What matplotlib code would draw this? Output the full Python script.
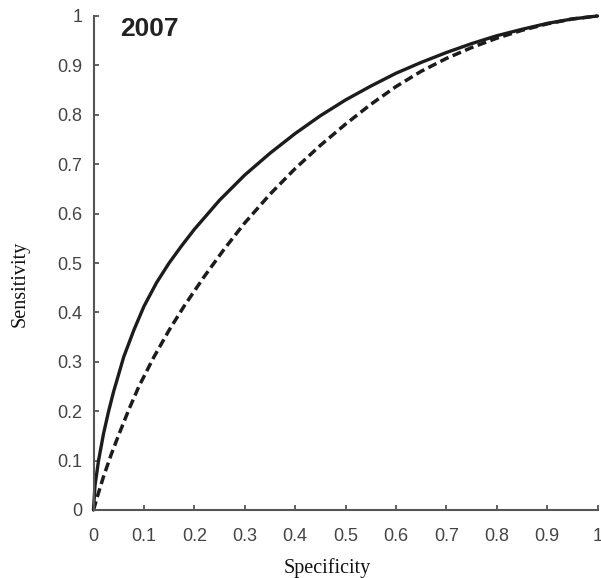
import matplotlib
matplotlib.use('Agg')
import matplotlib.pyplot as plt
import numpy as np

# ROC curves
solid_x = [0, 0.003, 0.01, 0.02, 0.03, 0.04, 0.06, 0.08, 0.1, 0.125, 0.15, 0.175, 0.2,
           0.25, 0.3, 0.35, 0.4, 0.45, 0.5, 0.55, 0.6, 0.65, 0.7, 0.75, 0.8, 0.85, 0.9, 0.95, 1.0]
solid_y = [0, 0.05, 0.1, 0.155, 0.2, 0.24, 0.31, 0.364, 0.412, 0.46, 0.5, 0.535, 0.568,
           0.627, 0.678, 0.722, 0.762, 0.798, 0.83, 0.858, 0.884, 0.906, 0.926, 0.944, 0.96, 0.973, 0.985, 0.994, 1.0]

dash_x = [0, 0.01, 0.02, 0.035, 0.05, 0.07, 0.09, 0.12, 0.15, 0.18, 0.22, 0.26, 0.3,
          0.35, 0.4, 0.45, 0.5, 0.55, 0.6, 0.65, 0.7, 0.75, 0.8, 0.85, 0.9, 0.95, 1.0]
dash_y = [0, 0.035, 0.068, 0.112, 0.152, 0.203, 0.25, 0.31, 0.364, 0.413, 0.473, 0.529, 0.581,
          0.639, 0.691, 0.738, 0.781, 0.821, 0.857, 0.888, 0.914, 0.936, 0.955, 0.971, 0.984, 0.994, 1.0]

ticks = [0, 0.1, 0.2, 0.3, 0.4, 0.5, 0.6, 0.7, 0.8, 0.9, 1]
tick_labels = ['0', '0.1', '0.2', '0.3', '0.4', '0.5', '0.6', '0.7', '0.8', '0.9', '1']

W, H = 601, 578
fig = plt.figure(figsize=(W / 100, H / 100), dpi=100)
ax = fig.add_axes([93.5 / W, 1 - 510 / H, 504 / W, 494 / H])

line_col = '#1c1c1c'
ax.plot(solid_x, solid_y, color=line_col, lw=2.4, clip_on=False,
        solid_capstyle='round', solid_joinstyle='round')
ax.plot(dash_x, dash_y, color=line_col, lw=2.5, clip_on=False,
        linestyle=(0, (2.6, 1.3)), dash_capstyle='butt')

ax.set_xlim(0, 1)
ax.set_ylim(0, 1)
ax.set_xticks(ticks)
ax.set_yticks(ticks)
ax.set_xticklabels(tick_labels)
ax.set_yticklabels(tick_labels)

for s in ['top', 'right']:
    ax.spines[s].set_visible(False)
for s in ['left', 'bottom']:
    ax.spines[s].set_color('#555555')
    ax.spines[s].set_linewidth(1.5)

ax.tick_params(direction='in', length=3.5, width=1.3, color='#555555',
               labelsize=13, labelcolor='#444444')
ax.tick_params(axis='x', pad=13)
ax.tick_params(axis='y', pad=8)
for lab in ax.get_xticklabels() + ax.get_yticklabels():
    lab.set_family('Liberation Sans')

fig.text(327 / W, 1 - 573 / H, 'Specificity', family='Liberation Serif',
         fontsize=14.5, ha='center', va='baseline', color='#111111')
fig.text(20.5 / W, 1 - 284 / H, 'Sensitivity', family='Liberation Serif',
         fontsize=14.5, ha='center', va='center', rotation=90, color='#111111')
fig.text(120 / W, 1 - 36 / H, '2007', family='Liberation Sans', fontweight='bold',
         fontsize=19, ha='left', va='baseline', color='#222222')

plt.savefig('out.png', dpi=100)
